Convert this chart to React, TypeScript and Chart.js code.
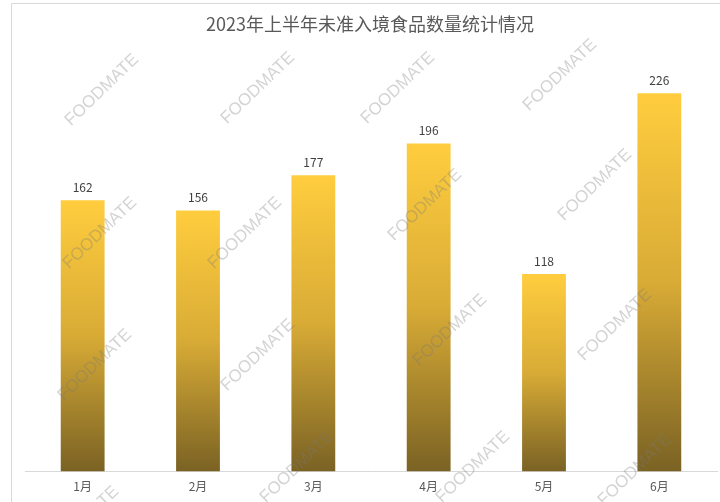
import React, { useEffect, useRef } from "react";
import { Chart, registerables } from "chart.js";

Chart.register(...registerables);

const titleText = "2023年上半年未准入境食品数量统计情况";
const months = ["1月", "2月", "3月", "4月", "5月", "6月"];
const counts = [162, 156, 177, 196, 118, 226];
const watermarkText = "FOODMATE";
const watermarkSpots = [
  [102, 90], [258, 88], [398, 88], [560, 75],
  [100, 233], [245, 233], [425, 205], [595, 185],
  [95, 365], [258, 355], [450, 330], [615, 325],
  [82, 522], [297, 467], [473, 467], [635, 470],
];

const CJK = '"Noto Sans CJK SC", "Noto Sans", sans-serif';

const framePlugin = {
  id: "frame",
  beforeDraw(chart: any) {
    const ctx = chart.ctx;
    ctx.save();
    ctx.fillStyle = "#ffffff";
    ctx.fillRect(0, 0, chart.width, chart.height);
    ctx.strokeStyle = "#d9d9d9";
    ctx.lineWidth = 1;
    ctx.beginPath();
    ctx.moveTo(11.5, chart.height);
    ctx.lineTo(11.5, 3.5);
    ctx.lineTo(chart.width, 3.5);
    ctx.stroke();
    ctx.fillStyle = "#595959";
    ctx.font = `18px ${CJK}`;
    ctx.textAlign = "center";
    ctx.textBaseline = "middle";
    ctx.fillText(titleText, 370, 24);
    ctx.restore();
  },
  afterDatasetsDraw(chart: any) {
    const ctx = chart.ctx;
    const meta = chart.getDatasetMeta(0);
    ctx.save();
    ctx.fillStyle = "#404040";
    ctx.font = `12px ${CJK}`;
    ctx.textAlign = "center";
    ctx.textBaseline = "bottom";
    meta.data.forEach((bar: any, i: number) => {
      ctx.fillText(String(counts[i]), bar.x, bar.y - 7);
    });
    ctx.restore();
  },
  afterDraw(chart: any) {
    const ctx = chart.ctx;
    ctx.save();
    ctx.font = `17px "Liberation Sans", sans-serif`;
    ctx.textAlign = "center";
    ctx.textBaseline = "middle";
    ctx.fillStyle = "rgba(120,120,120,0.33)";
    watermarkSpots.forEach(([x, y]) => {
      ctx.save();
      ctx.translate(x, y);
      ctx.rotate((-44 * Math.PI) / 180);
      ctx.fillText(watermarkText, 0, 0);
      ctx.restore();
    });
    ctx.restore();
  },
};

export default function App() {
  const ref = useRef<HTMLCanvasElement | null>(null);
  useEffect(() => {
    document.body.style.margin = "0";
    const canvas = ref.current!;
    const chart = new Chart(canvas, {
      type: "bar",
      data: {
        labels: months,
        datasets: [
          {
            data: counts,
            backgroundColor: (c: any) => {
              const ch = c.chart;
              const area = ch.chartArea;
              if (!area || c.dataIndex === undefined) return "#E8B93A";
              const y = ch.scales.y;
              const top = y.getPixelForValue(counts[c.dataIndex]);
              const bottom = y.getPixelForValue(0);
              const g = ch.ctx.createLinearGradient(0, top, 0, bottom);
              g.addColorStop(0, "#FFCD3E");
              g.addColorStop(0.5, "#D8AB36");
              g.addColorStop(1, "#7A6224");
              return g;
            },
            borderWidth: 0,
            categoryPercentage: 1,
            barPercentage: 0.38,
          },
        ],
      },
      options: {
        responsive: false,
        animation: false,
        layout: { padding: { left: 25, right: 3, top: 53, bottom: 0 } },
        plugins: { legend: { display: false }, tooltip: { enabled: false }, title: { display: false } },
        scales: {
          x: {
            grid: { display: false, drawTicks: false },
            border: { display: true, color: "#d9d9d9", width: 1 },
            ticks: { color: "#595959", font: { size: 12, family: CJK }, padding: 8 },
          },
          y: {
            display: false,
            min: 0,
            max: 250,
          },
        },
      },
      plugins: [framePlugin],
    });
    return () => chart.destroy();
  }, []);
  return <canvas ref={ref} width={720} height={502} style={{ display: "block", width: 720, height: 502 }} />;
}
